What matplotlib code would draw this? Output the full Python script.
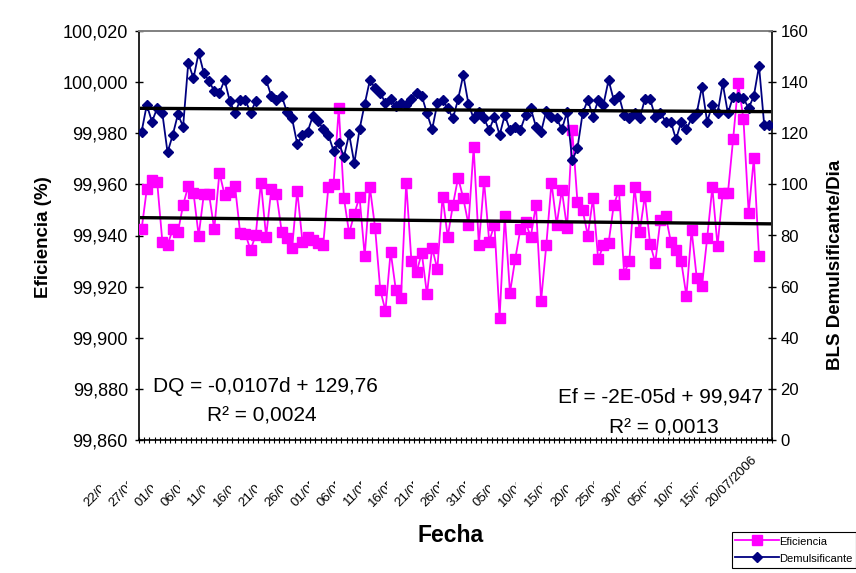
import numpy as np
import matplotlib
matplotlib.use("Agg")
import matplotlib.pyplot as plt
from matplotlib.patches import Rectangle
from matplotlib.ticker import FuncFormatter
from matplotlib.transforms import IdentityTransform, ScaledTranslation

plt.rcParams['font.family'] = ['Liberation Sans', 'DejaVu Sans']

# Eficiencia diaria (%)
eficiencia = [
    99.9424, 99.9581, 99.9617, 99.9610, 99.9376, 99.9363, 99.9424, 99.9413, 99.9519, 99.9594,
    99.9567, 99.9399, 99.9562, 99.9562, 99.9424, 99.9646, 99.9558, 99.9571, 99.9594, 99.9409,
    99.9406, 99.9343, 99.9402, 99.9607, 99.9395, 99.9581, 99.9562, 99.9415, 99.9389, 99.9350,
    99.9575, 99.9376, 99.9395, 99.9382, 99.9370, 99.9363, 99.9591, 99.9601, 99.9898, 99.9546,
    99.9409, 99.9484, 99.9552, 99.9320, 99.9589, 99.9431, 99.9187, 99.9106, 99.9337, 99.9187,
    99.9157, 99.9607, 99.9301, 99.9257, 99.9332, 99.9170, 99.9351, 99.9269, 99.9552, 99.9395,
    99.9519, 99.9626, 99.9546, 99.9443, 99.9745, 99.9363, 99.9613, 99.9376, 99.9443, 99.9079,
    99.9476, 99.9176, 99.9307, 99.9424, 99.9453, 99.9394, 99.9519, 99.9145, 99.9363, 99.9607,
    99.9443, 99.9577, 99.9428, 99.9813, 99.9532, 99.9500, 99.9400, 99.9546, 99.9307, 99.9361,
    99.9370, 99.9519, 99.9577, 99.9251, 99.9300, 99.9590, 99.9413, 99.9556, 99.9368, 99.9294,
    99.9462, 99.9478, 99.9376, 99.9343, 99.9300, 99.9163, 99.9422, 99.9233, 99.9202, 99.9389,
    99.9589, 99.9359, 99.9567, 99.9565, 99.9776, 99.9995, 99.9855, 99.9489, 99.9702, 99.9320,
]

# Demulsificante (BLS/dia), un dia sin dato
demulsificante = [
    120.6, 131.1, 124.5, 129.8, 127.8, 112.5, 119.3, 127.4, 122.6, 147.6,
    141.5, 151.5, 143.5, 140.4, 136.5, 135.9, 140.8, 132.6, 127.8, 133.0,
    133.0, 128.0, 132.6, np.nan, 140.8, 134.6, 133.0, 134.6, 128.4, 125.8,
    115.8, 119.3, 120.6, 126.7, 124.9, 121.5, 119.3, 113.1, 116.3, 110.8,
    119.7, 108.2, 121.5, 131.4, 140.8, 137.6, 135.9, 131.7, 133.3, 130.7,
    132.0, 131.1, 133.3, 135.9, 134.6, 127.8, 121.5, 131.7, 133.0, 129.9,
    125.8, 133.3, 142.8, 131.4, 125.8, 128.4, 125.8, 121.3, 126.5, 119.3,
    127.1, 121.3, 122.6, 121.3, 127.1, 129.8, 122.6, 120.6, 128.8, 126.5,
    125.8, 121.5, 128.4, 109.5, 114.1, 127.8, 133.0, 126.5, 133.0, 131.1,
    140.8, 133.0, 134.6, 127.1, 125.8, 127.8, 125.8, 133.3, 133.3, 126.5,
    128.0, 124.5, 124.5, 117.6, 124.5, 121.5, 125.8, 128.0, 138.2, 124.5,
    131.1, 127.8, 139.5, 127.8, 134.3, 134.3, 133.7, 129.8, 134.6, 146.3,
    123.2, 123.2,
]

fechas = [
    "22/03/2006", "27/03/2006", "01/04/2006", "06/04/2006", "11/04/2006",
    "16/04/2006", "21/04/2006", "26/04/2006", "01/05/2006", "06/05/2006",
    "11/05/2006", "16/05/2006", "21/05/2006", "26/05/2006", "31/05/2006",
    "05/06/2006", "10/06/2006", "15/06/2006", "20/06/2006", "25/06/2006",
    "30/06/2006", "05/07/2006", "10/07/2006", "15/07/2006", "20/07/2006",
]

# lineas de tendencia (d = 1, 2, ...)
dq_pend, dq_inter, dq_r2 = -0.0107, 129.76, 0.0024
ef_pend, ef_inter, ef_r2 = -2e-05, 99.947, 0.0013

rosa = '#FF00FF'
azul = '#000080'

n = len(demulsificante)
x_dq = np.arange(n)
x_ef = np.arange(len(eficiencia))

W, H = 856, 573
fig = plt.figure(figsize=(W / 100, H / 100), dpi=100)
fig.patch.set_facecolor('white')
ax = fig.add_axes([139 / W, 1 - 440 / H, (772 - 139) / W, (440 - 31) / H])
ax2 = ax.twinx()

l_ef, = ax.plot(x_ef, eficiencia, color=rosa, lw=1.3, marker='s', ms=6.8,
                mec=rosa, zorder=3, label='Eficiencia')
l_dq, = ax2.plot(x_dq, demulsificante, color=azul, lw=1.3, marker='D', ms=5.2,
                 mec=azul, zorder=3, label='Demulsificante')

d = x_dq + 1
ax.plot(x_dq, ef_pend * d + ef_inter, color='black', lw=2.4, zorder=5)
ax2.plot(x_dq, dq_pend * d + dq_inter, color='black', lw=2.4, zorder=5)

ax.set_xlim(-0.5, n - 0.5)
ax.set_ylim(99.86, 100.02)
ax2.set_ylim(0, 160)

ax.set_yticks(np.linspace(99.86, 100.02, 9))
ax.yaxis.set_major_formatter(FuncFormatter(lambda v, p: f"{v:.3f}".replace('.', ',')))
ax2.set_yticks(np.arange(0, 161, 20))

ax.set_xticks([])
ax.set_xticks(np.arange(-0.5, n, 1), minor=True)
ax.tick_params(axis='x', which='minor', direction='inout', length=5, width=0.8)
ax.tick_params(axis='y', direction='inout', length=6, width=1, labelsize=13, pad=5)
ax2.tick_params(axis='y', direction='inout', length=6, width=1, labelsize=12, pad=3)

for a in (ax, ax2):
    a.spines['top'].set_color('#808080')
    a.spines['top'].set_linewidth(1.2)
ax.spines['right'].set_visible(False)
ax2.spines['left'].set_visible(False)
ax2.spines['bottom'].set_visible(False)
for s in (ax.spines['left'], ax.spines['bottom'], ax2.spines['right']):
    s.set_linewidth(1.2)
    s.set_color('black')

# etiquetas de fecha, cada una con fondo blanco que tapa a la anterior
desplaz = ScaledTranslation(-0.09, -0.18, fig.dpi_scale_trans)
trans = ax.get_xaxis_transform() + desplaz
textos = []
for k, f in enumerate(fechas):
    t = fig.text(5 * k, 0, f, transform=trans, rotation=45, rotation_mode='anchor',
                 ha='right', va='center', fontsize=9.5, zorder=20 + 2 * k + 1)
    textos.append(t)
fig.canvas.draw()
for k, t in enumerate(textos):
    bb = t.get_window_extent()
    fig.add_artist(Rectangle((bb.x0 - 6, bb.y0), bb.width + 6, bb.height,
                             transform=IdentityTransform(), facecolor='white',
                             edgecolor='none', zorder=20 + 2 * k))

fig.text(43 / W, 1 - 237 / H, 'Eficiencia (%)', rotation=90, ha='center', va='center',
         fontsize=13.5, fontweight='bold')
fig.text(836 / W, 1 - 265 / H, 'BLS Demulsificante/Dia', rotation=90, ha='center',
         va='center', fontsize=13.5, fontweight='bold')
fig.text(451 / W, 1 - 535 / H, 'Fecha', ha='center', va='center', fontsize=16.5,
         fontweight='bold')

txt_dq = f"DQ = {dq_pend:.4f}d + {dq_inter:.2f}".replace('.', ',')
txt_ef = f"Ef = {ef_pend:.0E}d + {ef_inter:.3f}".replace('.', ',')
fig.text(265 / W, 1 - 387 / H, txt_dq, ha='center', va='center', fontsize=15)
fig.text(262 / W, 1 - 416 / H, f"R² = {dq_r2:.4f}".replace('.', ','), ha='center',
         va='center', fontsize=15)
fig.text(661 / W, 1 - 397 / H, txt_ef, ha='center', va='center', fontsize=15)
fig.text(664 / W, 1 - 428 / H, f"R² = {ef_r2:.4f}".replace('.', ','), ha='center',
         va='center', fontsize=15)

leg = fig.legend([l_ef, l_dq], ['Eficiencia', 'Demulsificante'], loc='upper left',
                 bbox_to_anchor=(732 / W, 1 - 532 / H), fontsize=8, frameon=True,
                 fancybox=False, framealpha=1, edgecolor='black', handlelength=3.9,
                 handleheight=1.3, handletextpad=0.05, borderpad=0.3,
                 labelspacing=0.45, borderaxespad=0, numpoints=1)
leg.get_frame().set_linewidth(0.8)

fig.savefig('out.png', dpi=100, facecolor='white')
